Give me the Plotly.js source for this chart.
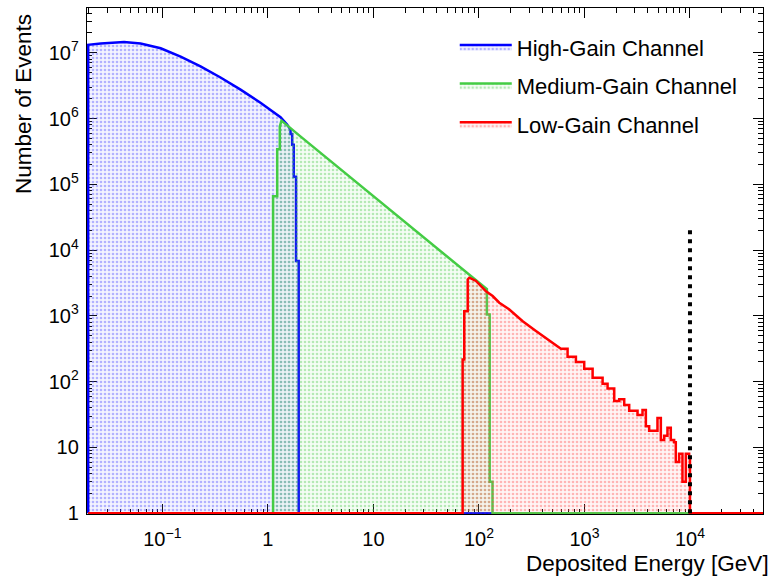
<!DOCTYPE html>
<html><head><meta charset="utf-8">
<script src="https://cdn.plot.ly/plotly-3.0.1.min.js"></script>
<style>html,body{margin:0;padding:0;background:#fff}</style>
</head><body><div id="chart" style="width:776px;height:576px"></div>
<script>
// ---- data (energy in GeV, number of events; 0 = empty bin) ----
const highGainE = [0.0198,0.0198,0.0261,0.0434,0.0622,0.0964,0.149,0.230,0.356,0.551,0.851,1.318,1.52,1.64,1.64,1.70,1.70,1.76,1.76,1.85,1.85,1.96,1.96,50000];
const highGainN = [0,1.32e7,1.38e7,1.45e7,1.38e7,1.17e7,8.7e6,6.2e6,4.2e6,2.75e6,1.74e6,1.05e6,8.1e5,6.8e5,5.8e5,5.8e5,4.0e5,4.0e5,1.3e5,1.3e5,6.8e3,6.8e3,0,0];

const mediumGainE = [0.0198,1.12,1.12,1.226,1.226,1.297,1.297,1.346,2.02,11.6,59.7,119,119,126.5,126.5,134.5,134.5,50000];
const mediumGainN = [0,0,6.6e4,6.6e4,3.4e5,3.4e5,7.6e5,9.3e5,5.4e5,5.5e4,6.4e3,2.55e3,1.05e3,1.05e3,3,3,0,0];

const lowGainE = [0.0198,70.1,70.1,72.6,72.6,78.3,78.3,81.1,93.8,116.6,135,156,193,260,347,464];
const lowGainN = [0,0,218,218,1180,1180,3570,3800,3390,2370,2000,1585,1260,830,590,417];
const lowGainTailEdges = [598,692,830,995,1195,1486,1656,1915,2135,2382,2655,3185,3550,3820,4105,4920,5295,5690,6120,6580,7080,7340,7890,8490,9130,9820,10000];
const lowGainTailN = [316,239,199,157,115,93,79,51,54,44,36,31,37,21,18,28,13,15,20,13,12,6,8,3,8,7];
const lowGainEndE = [10000,50000];
const lowGainEndN = [0,0];

const limitE = [10000,10000];
const limitN = [1,2e4];

const seriesNames = ['High-Gain Channel','Medium-Gain Channel','Low-Gain Channel'];
const xTitle = 'Deposited Energy [GeV]';
const yTitle = 'Number of Events';

// ---- build ----
const AXMIN = 1; // empty bins drawn at the axis minimum (as ROOT does)
const toY = arr => arr.map(v => v > 0 ? v : AXMIN);

const lowX = lowGainE.slice(), lowY = lowGainN.slice();
for (let i = 0; i < lowGainTailN.length; i++) {
  lowX.push(lowGainTailEdges[i], lowGainTailEdges[i+1]);
  lowY.push(lowGainTailN[i], lowGainTailN[i]);
}
lowX.push(...lowGainEndE); lowY.push(...lowGainEndN);

const FONT = 'Liberation Sans, Arial, Helvetica, sans-serif';
function hist(x, y, name, line, fg, bg, grp) {
  return {
    type: 'scatter', mode: 'lines', x: x, y: toY(y), name: name,
    legendgroup: grp,
    line: {color: line, width: 2.5, shape: 'linear'},
    fill: 'toself', fillcolor: bg,
    fillpattern: {shape: '.', size: 4, solidity: 0.35, fgcolor: fg, bgcolor: bg, fillmode: 'replace'},
    hoverinfo: 'skip'
  };
}

const traces = [
  hist(highGainE, highGainN, seriesNames[0], '#0000ff', 'rgba(70,70,255,0.38)', 'rgba(150,150,255,0.10)', 'a'),
  hist(mediumGainE, mediumGainN, seriesNames[1], '#44cc44', 'rgba(70,200,70,0.36)', 'rgba(160,235,160,0.10)', 'b'),
  hist(lowX, lowY, seriesNames[2], '#ff0000', 'rgba(255,70,70,0.36)', 'rgba(255,160,160,0.10)', 'c'),
  {type: 'scatter', mode: 'lines', x: limitE, y: limitN, showlegend: false, hoverinfo: 'skip',
   line: {color: '#000', width: 4, dash: '4px,5px'}}
];

const axisBase = {
  type: 'log', dtick: 1, exponentformat: 'power',
  ticks: 'inside', ticklen: 10, tickwidth: 1, tickcolor: '#000',
  mirror: 'ticks', showline: true, linecolor: '#000', linewidth: 1,
  showgrid: false, zeroline: false, layer: 'below traces',
  tickfont: {family: FONT, size: 16, color: '#000'},
  minor: {ticks: 'inside', ticklen: 5, dtick: 'D1', tickcolor: '#000', tickwidth: 1, showgrid: false},
  automargin: false
};

const layout = {
  width: 776, height: 576,
  margin: {l: 87, r: 13, t: 8, b: 62},
  paper_bgcolor: '#fff', plot_bgcolor: '#fff',
  font: {family: FONT, color: '#000'},
  xaxis: Object.assign({}, axisBase, {range: [-1.714, 4.692], ticklabelstandoff: 8}),
  yaxis: Object.assign({}, axisBase, {range: [-0.012, 7.68], ticklabelstandoff: 4}),
  showlegend: true,
  legend: {x: 0.544, y: 0.964, xanchor: 'left', yanchor: 'top', bgcolor: 'rgba(0,0,0,0)',
           font: {family: FONT, size: 22, color: '#000'}, itemwidth: 52,
           traceorder: 'grouped', tracegroupgap: 7},
  annotations: [
    {text: yTitle, textangle: -90, xref: 'paper', yref: 'paper', x: -0.0947, y: 0.992,
     xanchor: 'center', yanchor: 'top', showarrow: false, font: {family: FONT, size: 22.5, color: '#000'}},
    {text: xTitle, xref: 'paper', yref: 'paper', x: 1.0118, y: -0.0988,
     xanchor: 'right', yanchor: 'middle', showarrow: false, font: {family: FONT, size: 22.5, color: '#000'}}
  ]
};

Plotly.newPlot('chart', traces, layout, {staticPlot: true, displayModeBar: false});
</script></body></html>
